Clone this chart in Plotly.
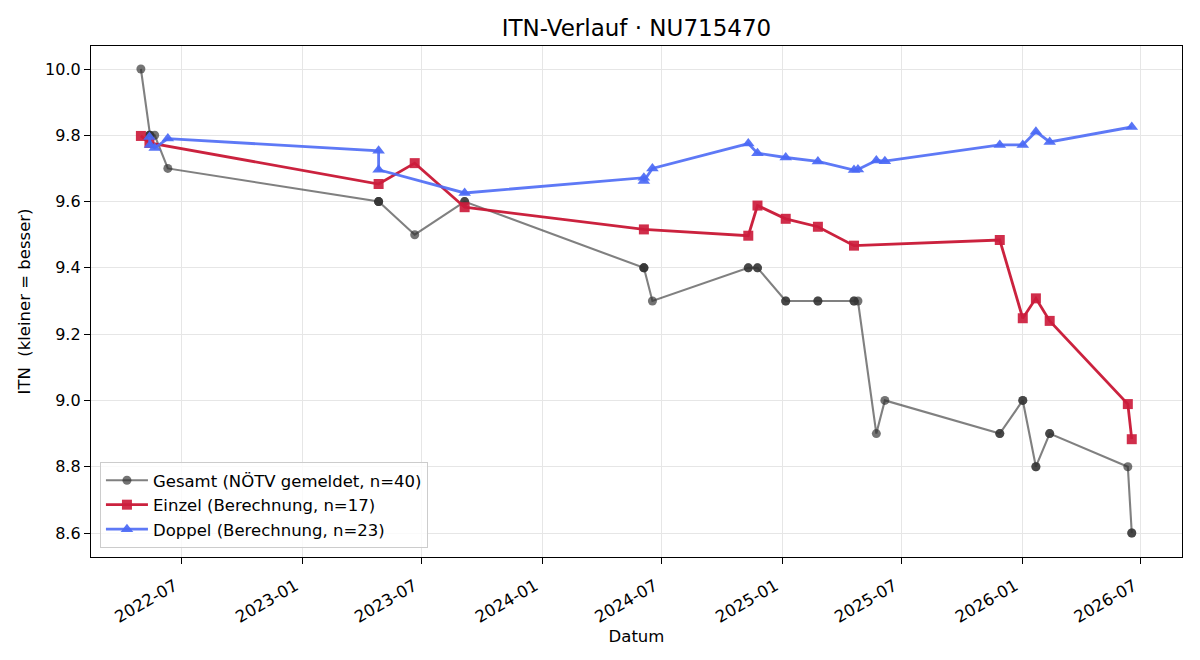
import plotly.graph_objects as go

# ---- data ----
gesamt_dates = ['2022-04-30', '2022-05-13', '2022-05-13', '2022-05-14', '2022-05-21', '2022-06-10',
                '2023-04-27', '2023-04-27', '2023-04-27', '2023-06-21', '2023-09-05', '2023-09-05',
                '2024-06-04', '2024-06-04', '2024-06-04', '2024-06-17', '2024-11-10', '2024-11-10',
                '2024-11-24', '2024-11-24', '2025-01-06', '2025-01-06', '2025-02-24', '2025-02-24',
                '2025-04-20', '2025-04-20', '2025-04-26', '2025-05-24', '2025-06-06', '2025-11-28',
                '2025-11-28', '2026-01-02', '2026-01-02', '2026-01-22', '2026-01-22', '2026-02-12',
                '2026-02-12', '2026-06-11', '2026-06-17', '2026-06-17']
gesamt_vals = [10.0, 9.8, 9.8, 9.8, 9.8, 9.7,
               9.6, 9.6, 9.6, 9.5, 9.6, 9.6,
               9.4, 9.4, 9.4, 9.3, 9.4, 9.4,
               9.4, 9.4, 9.3, 9.3, 9.3, 9.3,
               9.3, 9.3, 9.3, 8.9, 9.0, 8.9,
               8.9, 9.0, 9.0, 8.8, 8.8, 8.9,
               8.9, 8.8, 8.6, 8.6]

einzel_dates = ['2022-04-30', '2022-05-13', '2023-04-27', '2023-06-21', '2023-09-05', '2024-06-04',
                '2024-11-10', '2024-11-24', '2025-01-06', '2025-02-24', '2025-04-20', '2025-11-28',
                '2026-01-02', '2026-01-22', '2026-02-12', '2026-06-11', '2026-06-17']
einzel_vals = [9.798, 9.777, 9.653, 9.716, 9.583, 9.516,
               9.497, 9.588, 9.548, 9.524, 9.467, 9.484,
               9.248, 9.308, 9.240, 8.989, 8.883]

doppel_dates = ['2022-05-13', '2022-05-14', '2022-05-21', '2022-06-10', '2023-04-27', '2023-04-27',
                '2023-09-05', '2024-06-04', '2024-06-04', '2024-06-17', '2024-11-10', '2024-11-24',
                '2025-01-06', '2025-02-24', '2025-04-20', '2025-04-26', '2025-05-24', '2025-06-06',
                '2025-11-28', '2026-01-02', '2026-01-22', '2026-02-12', '2026-06-17']
doppel_vals = [9.795, 9.771, 9.762, 9.790, 9.753, 9.696,
               9.626, 9.672, 9.662, 9.700, 9.775, 9.746,
               9.733, 9.721, 9.695, 9.697, 9.724, 9.722,
               9.771, 9.771, 9.811, 9.780, 9.825]

y_ticks = [8.6, 8.8, 9.0, 9.2, 9.4, 9.6, 9.8, 10.0]

FONT = "DejaVu Sans"

fig = go.Figure()

fig.add_trace(go.Scatter(
    x=gesamt_dates, y=gesamt_vals, mode='lines+markers',
    name='Gesamt (NÖTV gemeldet, n=40)', legendgroup='g',
    line=dict(color='rgba(50,50,50,0.62)', width=2.1),
    marker=dict(symbol='circle', size=9, color='rgb(50,50,50)', opacity=0.68,
                line=dict(width=0)),
))
fig.add_trace(go.Scatter(
    x=einzel_dates, y=einzel_vals, mode='lines+markers',
    name='Einzel (Berechnung, n=17)', legendgroup='e',
    line=dict(color='rgba(200,22,52,0.95)', width=2.8),
    marker=dict(symbol='square', size=10, color='rgb(204,28,60)', opacity=0.92,
                line=dict(width=0)),
))
fig.add_trace(go.Scatter(
    x=doppel_dates, y=doppel_vals, mode='lines+markers',
    name='Doppel (Berechnung, n=23)', legendgroup='d',
    line=dict(color='rgba(80,110,245,0.92)', width=2.8),
    marker=dict(symbol='triangle-up', size=11, color='rgb(75,105,245)', opacity=0.92,
                line=dict(width=0)),
))

fig.update_layout(
    width=1200, height=660,
    margin=dict(l=91, r=18, t=46, b=103, autoexpand=False),
    paper_bgcolor='white', plot_bgcolor='white',
    font=dict(family=FONT, size=16, color='black'),
    title=dict(text='ITN-Verlauf · NU715470', x=0.5304, xanchor='center',
               y=1 - 28 / 660, yanchor='middle', yref='container',
               font=dict(family=FONT, size=23, color='black')),
    legend=dict(x=0.0082, y=0.0176, xanchor='left', yanchor='bottom',
                bgcolor='rgba(255,255,255,0.8)', bordercolor='#cccccc', borderwidth=1,
                font=dict(family=FONT, size=16.5, color='black'),
                tracegroupgap=4, traceorder='normal', itemwidth=42),
    showlegend=True,
)

fig.update_xaxes(
    type='date', range=['2022-02-13', '2026-09-01 12:00'],
    tick0='2022-07-01', dtick='M6', tickformat='%Y-%m', tickangle=-30,
    ticks='outside', ticklen=6, tickwidth=1.2, tickcolor='black',
    ticklabelshift=-7, ticklabelstandoff=6,
    showline=True, linecolor='black', linewidth=1.3, mirror=True,
    showgrid=True, gridcolor='#e6e6e6', gridwidth=1, zeroline=False,
    tickfont=dict(family=FONT, size=16.5, color='black'),
    title=dict(text='Datum', standoff=1, font=dict(family=FONT, size=16.5, color='black')),
)
fig.update_yaxes(
    range=[8.5276, 10.0694], tickvals=y_ticks, tickformat='.1f',
    ticks='outside', ticklen=6, tickwidth=1.2, tickcolor='black',
    showline=True, linecolor='black', linewidth=1.3, mirror=True,
    showgrid=True, gridcolor='#e6e6e6', gridwidth=1, zeroline=False,
    tickfont=dict(family=FONT, size=16, color='black'),
    title=dict(text='ITN  (kleiner = besser)', standoff=10,
               font=dict(family=FONT, size=16.5, color='black')),
)

fig.write_html("out.html")
